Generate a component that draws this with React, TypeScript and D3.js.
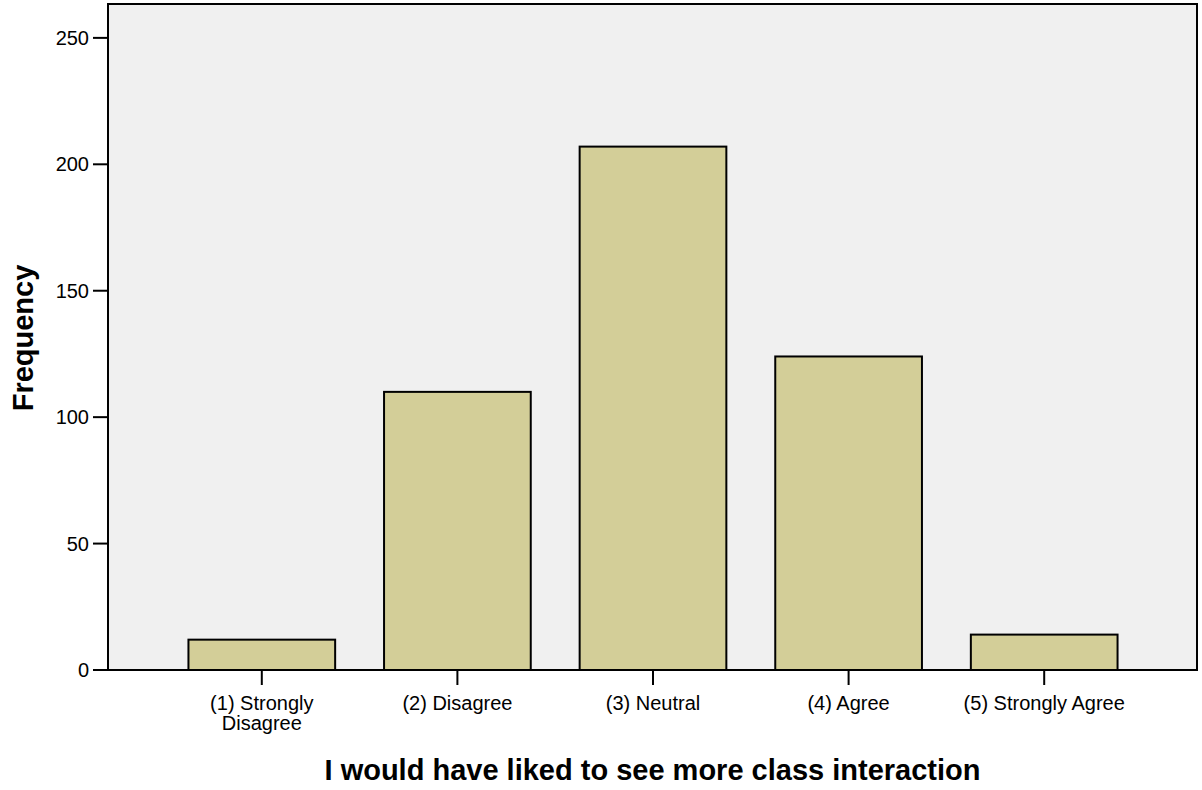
import { useEffect, useRef } from 'react';
import * as d3 from 'd3';

const categories = [
  ['(1) Strongly', 'Disagree'],
  ['(2) Disagree'],
  ['(3) Neutral'],
  ['(4) Agree'],
  ['(5) Strongly Agree'],
];
const frequencies = [12, 110, 207, 124, 14];
const yTicks = [0, 50, 100, 150, 200, 250];
const xTitle = 'I would have liked to see more class interaction';
const yTitle = 'Frequency';

const W = 1202;
const H = 790;
const FONT = '"Liberation Sans", Arial, sans-serif';

export default function App() {
  const svgRef = useRef<SVGSVGElement>(null);

  useEffect(() => {
    if (!svgRef.current) return;
    const svg = d3.select(svgRef.current);
    svg.selectAll('*').remove();

    const plot = { left: 108, right: 1197, top: 4, bottom: 670 };

    const x = d3.scaleBand<number>()
      .domain(d3.range(categories.length))
      .range([164, 1142])
      .paddingInner(0.25)
      .paddingOuter(0.125);

    const y = d3.scaleLinear()
      .domain([0, 263.4])
      .range([plot.bottom, plot.top]);

    // plot background
    svg.append('rect')
      .attr('x', plot.left)
      .attr('y', plot.top)
      .attr('width', plot.right - plot.left)
      .attr('height', plot.bottom - plot.top)
      .attr('fill', '#f0f0f0')
      .attr('stroke', '#000')
      .attr('stroke-width', 2);

    // bars
    svg.append('g')
      .selectAll('rect')
      .data(frequencies)
      .join('rect')
      .attr('x', (d, i) => x(i)!)
      .attr('y', d => y(d))
      .attr('width', x.bandwidth())
      .attr('height', d => y(0) - y(d))
      .attr('fill', '#d3ce98')
      .attr('stroke', '#000')
      .attr('stroke-width', 2);

    // y axis ticks + labels
    const yg = svg.append('g');
    yg.selectAll('line')
      .data(yTicks)
      .join('line')
      .attr('x1', plot.left - 15)
      .attr('x2', plot.left)
      .attr('y1', d => y(d))
      .attr('y2', d => y(d))
      .attr('stroke', '#000')
      .attr('stroke-width', 2);
    yg.selectAll('text')
      .data(yTicks)
      .join('text')
      .attr('x', plot.left - 19)
      .attr('y', d => y(d) + 7)
      .attr('text-anchor', 'end')
      .attr('font-family', FONT)
      .attr('font-size', 20)
      .attr('fill', '#000')
      .text(d => d);

    // x axis ticks + labels
    const xg = svg.append('g');
    xg.selectAll('line')
      .data(categories)
      .join('line')
      .attr('x1', (d, i) => x(i)! + x.bandwidth() / 2)
      .attr('x2', (d, i) => x(i)! + x.bandwidth() / 2)
      .attr('y1', plot.bottom)
      .attr('y2', plot.bottom + 15)
      .attr('stroke', '#000')
      .attr('stroke-width', 2);
    xg.selectAll('text')
      .data(categories)
      .join('text')
      .attr('text-anchor', 'middle')
      .attr('font-family', FONT)
      .attr('font-size', 20)
      .attr('fill', '#000')
      .each(function (lines, i) {
        d3.select(this)
          .selectAll('tspan')
          .data(lines)
          .join('tspan')
          .attr('x', x(i)! + x.bandwidth() / 2)
          .attr('y', (d, j) => 710 + j * 20)
          .text(d => d);
      });

    // axis titles
    svg.append('text')
      .attr('x', (plot.left + plot.right) / 2)
      .attr('y', 780)
      .attr('text-anchor', 'middle')
      .attr('font-family', FONT)
      .attr('font-size', 29)
      .attr('font-weight', 'bold')
      .text(xTitle);

    svg.append('text')
      .attr('transform', `translate(33, 338) rotate(-90)`)
      .attr('text-anchor', 'middle')
      .attr('font-family', FONT)
      .attr('font-size', 29)
      .attr('font-weight', 'bold')
      .text(yTitle);
  }, []);

  return (
    <svg
      ref={svgRef}
      width={W}
      height={H}
      style={{ position: 'absolute', left: 0, top: 0, background: '#fff' }}
    />
  );
}
